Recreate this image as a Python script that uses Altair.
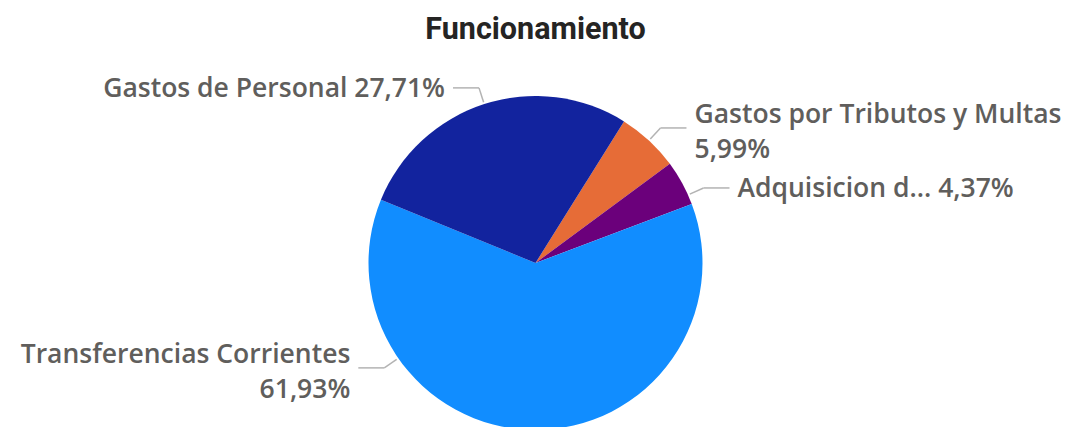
import math
import altair as alt
import pandas as pd

# ---- data ----
categories = ["Gastos por Tributos y Multas", "Adquisicion d...", "Transferencias Corrientes", "Gastos de Personal"]
values = [5.99, 4.37, 61.93, 27.71]
colors = ["#E66C37", "#6B007B", "#118DFF", "#12239E"]
title_text = "Funcionamiento"

df = pd.DataFrame({"category": categories, "value": values, "idx": list(range(len(categories)))})

# ---- layout ----
W, H = 1055, 410
PAD_TOP = 50
R = 167
CX, CY = W / 2, H / 2
START = math.radians(32)
K = 0.57           # label anchors kept above this fraction of radius below center
LABEL_FONT = "Open Sans"
LABEL_SIZE = 26.5
LH = 35            # label line height
GAP = 7.5          # extra spacing between neighbouring label blocks
RE = R + 17        # elbow radius

base = alt.Chart(df).transform_window(
    end="sum(value)", sort=[alt.SortField("idx")], frame=[None, 0]
).transform_calculate(
    start="datum.end - datum.value",
    mid=f"{START} + (datum.end - datum.value/2) / 100 * 2 * PI",
    pct="replace(format(datum.value, '.2f'), '.', ',') + '%'",
).transform_calculate(
    midn="datum.mid % (2*PI)",
    lines="length(datum.category) > 20 ? 2 : 1",
).transform_calculate(
    label="datum.lines > 1 ? datum.category + '\\n' + datum.pct : datum.category + ' ' + datum.pct",
    a=f"-cos(datum.midn) > {K} ? (datum.midn < PI ? PI - acos({K}) : PI + acos({K})) : datum.midn",
).transform_calculate(
    side="sin(datum.a) >= 0 ? 1 : -1",
    ye=f"{CY} - {RE} * cos(datum.a)",
).transform_window(
    prev_y="lag(ye)", prev_lines="lag(lines)", groupby=["side"], sort=[alt.SortField("idx")]
).transform_calculate(
    y1=(f"datum.prev_y == null ? datum.ye : (datum.side > 0 ? "
        f"max(datum.ye, datum.prev_y + datum.prev_lines*{LH}/2 + datum.lines*{LH}/2 + {GAP}) : "
        f"min(datum.ye, datum.prev_y - datum.prev_lines*{LH}/2 - datum.lines*{LH}/2 - {GAP}))"),
).transform_calculate(
    a2=(f"datum.side > 0 ? acos(clamp(({CY} - datum.y1)/{RE}, -1, 1)) : "
        f"2*PI - acos(clamp(({CY} - datum.y1)/{RE}, -1, 1))"),
).transform_calculate(
    x0=f"{CX} + ({R}+2) * sin(datum.a2)",
    y0=f"{CY} - ({R}+2) * cos(datum.a2)",
    x1=f"{CX} + {RE} * sin(datum.a2)",
).transform_calculate(
    x2="datum.x1 + datum.side * 26",
    xt="datum.x1 + datum.side * 34",
    yt=f"datum.y1 - (datum.lines - 1) * ({LH} / 2 - 4) + 1",
)

arcs = base.mark_arc(radius=R, stroke=None).encode(
    theta=alt.Theta("start:Q", scale=alt.Scale(domain=[0, 100], range=[START, START + 2 * math.pi])),
    theta2="end:Q",
    color=alt.Color("category:N", scale=alt.Scale(domain=categories, range=colors), legend=None),
)

leader1 = base.mark_rule(color="#B3B3B3", strokeWidth=1.5).encode(
    x=alt.X("x0:Q", scale=None), y=alt.Y("y0:Q", scale=None),
    x2="x1:Q", y2="y1:Q",
)
leader2 = base.mark_rule(color="#B3B3B3", strokeWidth=1.5).encode(
    x=alt.X("x1:Q", scale=None), y=alt.Y("y1:Q", scale=None),
    x2="x2:Q", y2="y1:Q",
)

text_style = dict(baseline="middle", font=LABEL_FONT, fontSize=LABEL_SIZE, fontWeight=600,
                  color="#605E5C", lineBreak="\n", lineHeight=LH)

text_right = base.transform_filter("datum.side > 0").mark_text(align="left", **text_style).encode(
    x=alt.X("xt:Q", scale=None), y=alt.Y("yt:Q", scale=None), text="label:N")

text_left = base.transform_filter("datum.side < 0").mark_text(align="right", **text_style).encode(
    x=alt.X("xt:Q", scale=None), y=alt.Y("yt:Q", scale=None), text="label:N")

chart = alt.layer(arcs, leader1, leader2, text_right, text_left).properties(
    width=W, height=H,
    autosize="none",
    padding={"left": 0, "top": PAD_TOP, "right": 0, "bottom": 0},
    title=alt.TitleParams(title_text, font="Roboto", fontSize=30.5, fontWeight="bold",
                          color="#252423", anchor="middle", offset=13),
).configure_view(stroke=None)

chart.save("out.html", embed_options={"renderer": "svg", "actions": False})
